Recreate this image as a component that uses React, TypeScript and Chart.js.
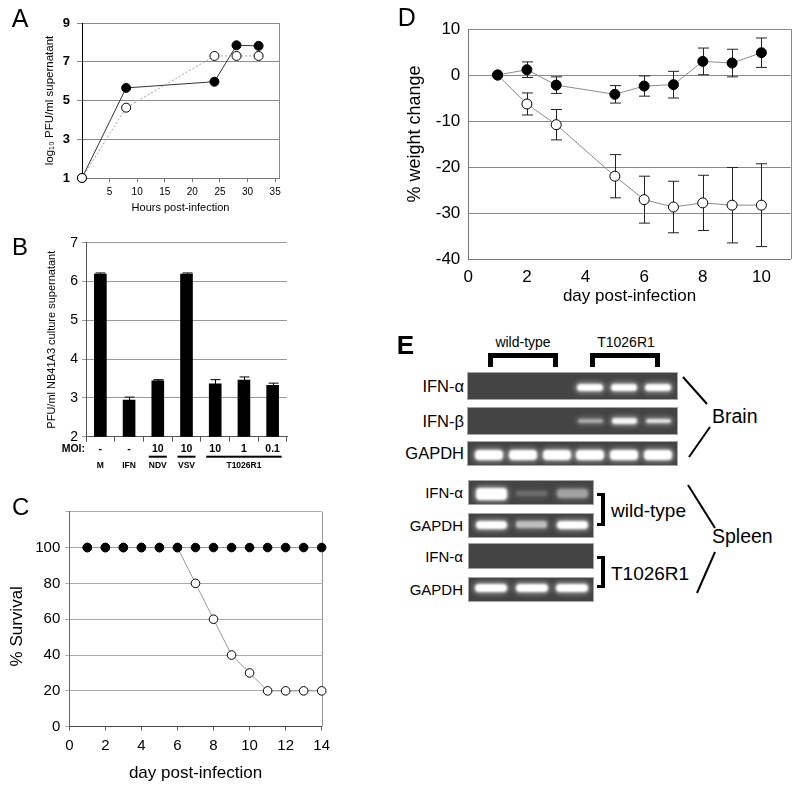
import React, { useEffect, useRef } from "react";
import { Chart, registerables } from "chart.js";

Chart.register(...registerables);

const FONT = "'Liberation Sans', Arial, Helvetica, sans-serif";
Chart.defaults.font.family = FONT;
Chart.defaults.color = "#000";

// ---------- Panel A: virus growth ----------
const aHours = [0, 8, 24, 28, 32];
const aFilled = [1, 5.65, 5.97, 7.85, 7.82];
const aOpen = [1, 4.63, 7.3, 7.3, 7.3];

// ---------- Panel B: bar chart ----------
const bConditions = ["M", "IFN", "NDV 10", "VSV 10", "T1026R1 10", "T1026R1 1", "T1026R1 0.1"];
const bMoi = ["-", "-", "10", "10", "10", "1", "0.1"];
const bValues = [6.2, 2.95, 3.45, 6.2, 3.37, 3.47, 3.33];
const bErrors = [0.02, 0.07, 0.02, 0.02, 0.1, 0.07, 0.05];
const bGroupNames = ["M", "IFN", "NDV", "VSV", "T1026R1"];
const bGroupStart = [0, 1, 2, 3, 4];
const bGroupEnd = [0, 1, 2, 3, 6];
const bGroupUnderline = [false, false, true, true, true];

// ---------- Panel C: survival ----------
const cDays = [1, 2, 3, 4, 5, 6, 7, 8, 9, 10, 11, 12, 13, 14];
const cFilled = [100, 100, 100, 100, 100, 100, 100, 100, 100, 100, 100, 100, 100, 100];
const cOpen = [100, 100, 100, 100, 100, 100, 80, 60, 40, 30, 20, 20, 20, 20];

// ---------- Panel D: weight change ----------
const dDays = [1, 2, 3, 5, 6, 7, 8, 9, 10];
const dFilled = [0, 1.15, -2.2, -4.2, -2.4, -2.1, 2.96, 2.6, 4.85];
const dFilledErr = [0, 1.7, 1.8, 1.9, 2.2, 2.9, 2.9, 3.0, 3.2];
const dOpen = [0, -6.3, -10.8, -22.0, -27.1, -28.7, -27.8, -28.3, -28.3];
const dOpenErr = [0, 2.4, 3.3, 4.7, 5.1, 5.6, 6.0, 8.2, 9.0];

// ---------- Panel E: gel band intensities ----------
const brainIfnAlpha = [0, 0, 0, 1, 1, 1];
const brainIfnBeta = [0, 0, 0, 0.55, 0.95, 0.85];
const brainGapdh = [1, 1, 1, 1, 1, 1];
const spleenWtIfnAlpha = [1, 0.22, 0.5];
const spleenWtGapdh = [1, 0.65, 1];
const spleenMutIfnAlpha = [0, 0, 0];
const spleenMutGapdh = [1, 1, 1];

// ---------- plugins ----------
const framePlugin = {
  id: "frame",
  beforeDatasetsDraw(chart: any, _args: any, opts: any) {
    if (!opts || !opts.color) return;
    const { left, top, right, bottom } = chart.chartArea;
    const ctx = chart.ctx;
    ctx.save();
    ctx.strokeStyle = opts.color;
    ctx.lineWidth = 1;
    ctx.beginPath();
    const sides: string[] = opts.sides || [];
    if (sides.includes("right")) {
      ctx.moveTo(Math.round(right) + 0.5, top);
      ctx.lineTo(Math.round(right) + 0.5, bottom);
    }
    if (sides.includes("top")) {
      ctx.moveTo(left, Math.round(top) + 0.5);
      ctx.lineTo(right, Math.round(top) + 0.5);
    }
    ctx.stroke();
    ctx.restore();
  },
};

function drawErrors(chart: any, opts: any) {
  const ctx = chart.ctx;
  const yScale = chart.scales.y;
  chart.data.datasets.forEach((ds: any, di: number) => {
    const errs = opts.errors && opts.errors[di];
    if (!errs) return;
    const meta = chart.getDatasetMeta(di);
    meta.data.forEach((el: any, i: number) => {
      const e = errs[i];
      if (!e) return;
      const raw = ds.data[i];
      const v = typeof raw === "number" ? raw : raw.y;
      const x = Math.round(el.x) + 0.5;
      const yT = yScale.getPixelForValue(v + e);
      const yB = yScale.getPixelForValue(v - e);
      const cap = opts.cap || 5;
      ctx.save();
      ctx.strokeStyle = opts.color || "#000";
      ctx.lineWidth = opts.width || 1;
      ctx.beginPath();
      ctx.moveTo(x, yT);
      ctx.lineTo(x, yB);
      ctx.moveTo(x - cap, yT);
      ctx.lineTo(x + cap, yT);
      ctx.moveTo(x - cap, yB);
      ctx.lineTo(x + cap, yB);
      ctx.stroke();
      ctx.restore();
    });
  });
}

const errorBarPlugin = {
  id: "errorBars",
  beforeDatasetsDraw(chart: any, _a: any, opts: any) {
    if (opts && opts.layer === "before") drawErrors(chart, opts);
  },
  afterDatasetsDraw(chart: any, _a: any, opts: any) {
    if (opts && opts.layer === "after") drawErrors(chart, opts);
  },
};

const moiLabelPlugin = {
  id: "moiLabels",
  afterDraw(chart: any) {
    const ctx = chart.ctx;
    const xs = chart.scales.x;
    const area = chart.chartArea;
    const rowMoi = area.bottom + 12;
    const rowLine = area.bottom + 20;
    const rowName = area.bottom + 28.5;
    ctx.save();
    ctx.fillStyle = "#000";
    ctx.textBaseline = "middle";
    ctx.font = `bold 10.5px ${FONT}`;
    ctx.textAlign = "right";
    ctx.fillText("MOI:", area.left - 1, rowMoi);
    ctx.textAlign = "center";
    bMoi.forEach((m, i) => {
      ctx.fillText(m, xs.getPixelForValue(i), rowMoi);
    });
    ctx.font = `bold 8.5px ${FONT}`;
    bGroupNames.forEach((name, g) => {
      const x0 = xs.getPixelForValue(bGroupStart[g]);
      const x1 = xs.getPixelForValue(bGroupEnd[g]);
      const cx = (x0 + x1) / 2;
      if (bGroupUnderline[g]) {
        ctx.fillRect(x0 - 9, rowLine - 1, x1 - x0 + 18, 2);
      }
      ctx.fillText(name, cx, rowName);
    });
    ctx.restore();
  },
};

// ---------- chart configs ----------
const noLegend = { legend: { display: false }, tooltip: { enabled: false } };

function configA(): any {
  return {
    type: "line",
    data: {
      datasets: [
        {
          data: aHours.map((x, i) => ({ x, y: aOpen[i] })),
          borderColor: "#a0a0a0",
          borderWidth: 1,
          borderDash: [2, 2],
          pointRadius: 4.5,
          pointBackgroundColor: "#fff",
          pointBorderColor: "#000",
          pointBorderWidth: 1,
          clip: false,
        },
        {
          data: aHours.map((x, i) => ({ x, y: aFilled[i] })),
          borderColor: "#333",
          borderWidth: 1,
          pointRadius: 4.5,
          pointBackgroundColor: "#000",
          pointBorderColor: "#000",
          clip: false,
        },
      ],
    },
    options: {
      responsive: false,
      animation: false,
      layout: { padding: { top: 23, right: 21, left: 0, bottom: 0 } },
      plugins: { ...noLegend, frame: { sides: ["right"], color: "#8c8c8c" } },
      scales: {
        x: {
          type: "linear",
          min: 0,
          max: 35.7,
          ticks: {
            stepSize: 5,
            includeBounds: false,
            font: { size: 10 },
            padding: 4,
            maxRotation: 0,
            autoSkip: false,
            callback: (v: number) => (v === 0 ? "" : String(v)),
          },
          grid: { drawOnChartArea: false, tickLength: 4, color: "#777" },
          border: { color: "#777" },
          title: { display: true, text: "Hours post-infection", font: { size: 11 }, padding: { top: 0, bottom: 7 } },
          afterFit: (s: any) => { s.height = 44; },
        },
        y: {
          min: 1,
          max: 9,
          ticks: { stepSize: 2, font: { size: 13, weight: "bold" }, padding: 7 },
          grid: { color: "#8c8c8c", tickLength: 5 },
          border: { color: "#000" },
          title: { display: true, text: "log\u2081\u2080 PFU/ml supernatant", font: { size: 11.5 }, padding: { top: 43, bottom: 0 } },
          afterFit: (s: any) => { s.width = 82; },
        },
      },
    },
    plugins: [framePlugin],
  };
}

function configB(): any {
  return {
    type: "bar",
    data: {
      labels: bConditions,
      datasets: [
        {
          data: bValues,
          backgroundColor: "#000",
          borderWidth: 0,
          barPercentage: 0.44,
          categoryPercentage: 1,
        },
      ],
    },
    options: {
      responsive: false,
      animation: false,
      layout: { padding: { top: 14.7, right: 13, left: 0, bottom: 0 } },
      plugins: { ...noLegend, errorBars: { layer: "after", errors: [bErrors], cap: 5, color: "#000", width: 1 } },
      scales: {
        x: {
          ticks: { display: false },
          grid: { drawOnChartArea: false, tickLength: 5, color: "#555", offset: true },
          border: { color: "#555" },
          afterFit: (s: any) => { s.height = 41.3; },
        },
        y: {
          min: 2,
          max: 7,
          ticks: { stepSize: 1, font: { size: 14 }, padding: 4 },
          grid: { color: "#999", tickLength: 4 },
          border: { color: "#555" },
          title: { display: true, text: "PFU/ml NB41A3 culture supernatant", font: { size: 11 }, padding: { top: 45, bottom: 0 } },
          afterFit: (s: any) => { s.width = 86; },
        },
      },
    },
    plugins: [errorBarPlugin, moiLabelPlugin],
  };
}

function configC(): any {
  return {
    type: "line",
    data: {
      datasets: [
        {
          data: cDays.map((x, i) => ({ x, y: cFilled[i] })),
          borderColor: "#999",
          borderWidth: 1,
          pointRadius: 4.3,
          pointBackgroundColor: "#000",
          pointBorderColor: "#000",
          clip: false,
        },
        {
          data: cDays.map((x, i) => ({ x, y: cOpen[i] })),
          borderColor: "#999",
          borderWidth: 1,
          pointRadius: 4.3,
          pointBackgroundColor: "#fff",
          pointBorderColor: "#000",
          pointBorderWidth: 1,
          clip: false,
        },
      ],
    },
    options: {
      responsive: false,
      animation: false,
      layout: { padding: { top: 21.7, right: 18.3, left: 0, bottom: 0 } },
      plugins: { ...noLegend, frame: { sides: ["right"], color: "#999" } },
      scales: {
        x: {
          type: "linear",
          min: 0,
          max: 14,
          ticks: { stepSize: 2, font: { size: 15 }, padding: 6, maxRotation: 0, autoSkip: false },
          grid: { drawOnChartArea: false, tickLength: 4, color: "#666" },
          border: { color: "#444" },
          title: { display: true, text: "day post-infection", font: { size: 17 }, padding: { top: 0, bottom: 8.5 } },
          afterFit: (s: any) => { s.height = 65.3; },
        },
        y: {
          min: 0,
          max: 120,
          ticks: { stepSize: 20, font: { size: 15 }, padding: 5, callback: (v: number) => (v > 100 ? "" : String(v)) },
          grid: { color: "#aaa", tickLength: 4 },
          border: { color: "#666" },
          title: { display: true, text: "% Survival\u00a0\u00a0\u00a0", font: { size: 17 }, padding: { top: 7, bottom: 0 } },
          afterFit: (s: any) => { s.width = 69.3; },
        },
      },
    },
    plugins: [framePlugin],
  };
}

function configD(): any {
  return {
    type: "line",
    data: {
      datasets: [
        {
          data: dDays.map((x, i) => ({ x, y: dFilled[i] })),
          borderColor: "#8a8a8a",
          borderWidth: 1,
          pointRadius: 5,
          pointBackgroundColor: "#000",
          pointBorderColor: "#000",
          clip: false,
        },
        {
          data: dDays.map((x, i) => ({ x, y: dOpen[i] })),
          borderColor: "#8a8a8a",
          borderWidth: 1,
          pointRadius: 5,
          pointBackgroundColor: "#fff",
          pointBorderColor: "#000",
          pointBorderWidth: 1,
          clip: false,
        },
      ],
    },
    options: {
      responsive: false,
      animation: false,
      layout: { padding: { top: 29, right: 9.3, left: 0, bottom: 0 } },
      plugins: {
        ...noLegend,
        frame: { sides: ["right"], color: "#888" },
        errorBars: { layer: "before", errors: [dFilledErr, dOpenErr], cap: 5.5, color: "#222", width: 1 },
      },
      scales: {
        x: {
          type: "linear",
          min: 0,
          max: 11,
          ticks: { stepSize: 2, includeBounds: false, font: { size: 17 }, padding: 8, maxRotation: 0, autoSkip: false },
          grid: { drawOnChartArea: false, drawTicks: false, color: "#777" },
          border: { color: "#777" },
          title: { display: true, text: "day post-infection", font: { size: 17 }, padding: { top: 0, bottom: 3 } },
          afterFit: (s: any) => { s.height = 51; },
        },
        y: {
          min: -40,
          max: 10,
          ticks: { stepSize: 10, font: { size: 17 }, padding: 8 },
          grid: { color: "#888", drawTicks: false },
          border: { color: "#777" },
          title: { display: true, text: "\u00a0\u00a0\u00a0\u00a0% weight change", font: { size: 18 }, padding: { top: 4, bottom: 0 } },
          afterFit: (s: any) => { s.width = 68.3; },
        },
      },
    },
    plugins: [framePlugin, errorBarPlugin],
  };
}

// ---------- components ----------
function ChartCanvas(props: { left: number; top: number; width: number; height: number; make: () => any }) {
  const ref = useRef<HTMLCanvasElement>(null);
  useEffect(() => {
    const chart = new Chart(ref.current as HTMLCanvasElement, props.make());
    return () => chart.destroy();
  }, []);
  return (
    <canvas
      ref={ref}
      width={props.width}
      height={props.height}
      style={{ position: "absolute", left: props.left, top: props.top, width: props.width, height: props.height }}
    />
  );
}

function Txt(props: { x: number; cy: number; size: number; align?: "left" | "right" | "center"; bold?: boolean; children: any }) {
  const { x, cy, size, align = "left", bold } = props;
  const top = cy - 0.4885 * size;
  const style: any = {
    position: "absolute",
    top,
    fontSize: size,
    lineHeight: 1,
    whiteSpace: "nowrap",
    fontWeight: bold ? "bold" : "normal",
    fontFamily: FONT,
    color: "#000",
  };
  if (align === "left") style.left = x;
  else if (align === "right") style.right = 800 - x;
  else {
    style.left = x - 200;
    style.width = 400;
    style.textAlign = "center";
  }
  return <div style={style}>{props.children}</div>;
}

function Letter(props: { x: number; capTop: number; size: number; bold?: boolean; children: any }) {
  return (
    <div
      style={{
        position: "absolute",
        left: props.x,
        top: props.capTop - 0.1305 * props.size,
        fontSize: props.size,
        lineHeight: 1,
        fontFamily: FONT,
        fontWeight: props.bold ? "bold" : "normal",
      }}
    >
      {props.children}
    </div>
  );
}

function GelRow(props: {
  left: number;
  width: number;
  top: number;
  height: number;
  lanes: number[];
  laneStart: number;
  laneStep: number;
  bandW: number;
  bandH: number;
  dy: number;
}) {
  const { left, width, top, height, lanes, laneStart, laneStep, bandW, bandH, dy } = props;
  const cy = height / 2 + dy;
  return (
    <div
      style={{
        position: "absolute",
        left,
        top,
        width,
        height,
        boxSizing: "border-box",
        background: "#444",
        border: "1px solid #a5a5a5",
        overflow: "hidden",
      }}
    >
      {lanes.map((intensity, i) => {
        if (intensity <= 0) return null;
        const a = Math.min(1, intensity);
        const h = bandH * (0.35 + 0.65 * a);
        const w = bandW;
        const cx = laneStart + i * laneStep - left;
        return (
          <div
            key={i}
            style={{
              position: "absolute",
              left: cx - w / 2,
              top: cy - h / 2,
              width: w,
              height: h,
              borderRadius: Math.min(h / 2, 4),
              background: `rgba(255,255,255,${a})`,
              boxShadow: `0 0 4px 2px rgba(215,215,215,${a * 0.55})`,
              filter: "blur(0.8px)",
            }}
          />
        );
      })}
    </div>
  );
}

function GelPanel() {
  const bL = 467, bW = 211, bStart = 488, bStep = 33.8;
  const sL = 468, sW = 126, sStart = 490, sStep = 40.7;
  const bar = (l: number, t: number, w: number, h: number) => (
    <div style={{ position: "absolute", left: l, top: t, width: w, height: h, background: "#000" }} />
  );
  return (
    <>
      <Txt x={523} cy={341.5} size={14} align="center">wild-type</Txt>
      <Txt x={626} cy={341.5} size={14} align="center">T1026R1</Txt>
      {bar(488, 353, 70, 5)}
      {bar(488, 353, 5, 14)}
      {bar(553, 353, 5, 14)}
      {bar(590, 353, 70, 5)}
      {bar(590, 353, 5, 14)}
      {bar(655, 353, 5, 14)}

      <GelRow left={bL} width={bW} top={372} height={28} lanes={brainIfnAlpha} laneStart={bStart} laneStep={bStep} bandW={26} bandH={7} dy={0} />
      <GelRow left={bL} width={bW} top={407} height={28} lanes={brainIfnBeta} laneStart={bStart} laneStep={bStep} bandW={25} bandH={5.5} dy={-1} />
      <GelRow left={bL} width={bW} top={441} height={25} lanes={brainGapdh} laneStart={bStart} laneStep={bStep} bandW={28} bandH={10} dy={0} />
      <Txt x={464} cy={386} size={16.5} align="right">IFN-α</Txt>
      <Txt x={464} cy={421} size={16.5} align="right">IFN-β</Txt>
      <Txt x={464} cy={453.5} size={16.5} align="right">GAPDH</Txt>

      <GelRow left={sL} width={sW} top={480} height={25} lanes={spleenWtIfnAlpha} laneStart={sStart} laneStep={sStep} bandW={31} bandH={12} dy={0} />
      <GelRow left={sL} width={sW} top={513} height={25} lanes={spleenWtGapdh} laneStart={sStart} laneStep={sStep} bandW={31} bandH={8} dy={-2} />
      <GelRow left={sL} width={sW} top={543} height={26} lanes={spleenMutIfnAlpha} laneStart={sStart} laneStep={sStep} bandW={30} bandH={6} dy={0} />
      <GelRow left={sL} width={sW} top={577} height={25} lanes={spleenMutGapdh} laneStart={sStart} laneStep={sStep} bandW={32} bandH={8} dy={-3} />
      <Txt x={463} cy={492.5} size={15} align="right">IFN-α</Txt>
      <Txt x={463} cy={525.5} size={15} align="right">GAPDH</Txt>
      <Txt x={463} cy={556} size={15} align="right">IFN-α</Txt>
      <Txt x={463} cy={589.5} size={15} align="right">GAPDH</Txt>

      {bar(601, 493, 4, 33)}
      {bar(597, 493, 6, 3)}
      {bar(597, 523, 6, 3)}
      {bar(601, 556, 4, 32)}
      {bar(597, 556, 6, 3)}
      {bar(597, 585, 6, 3)}
      <Txt x={611} cy={510} size={19}>wild-type</Txt>
      <Txt x={611} cy={573} size={19}>T1026R1</Txt>

      <Txt x={712} cy={416.5} size={19.5}>Brain</Txt>
      <Txt x={712} cy={537} size={19.5}>Spleen</Txt>

      <svg width={800} height={792} style={{ position: "absolute", left: 0, top: 0, pointerEvents: "none" }}>
        <g stroke="#000" strokeWidth={2} fill="none">
          <line x1={683} y1={377} x2={707} y2={404} />
          <line x1={689} y1={457} x2={710} y2={427} />
          <line x1={688} y1={485} x2={715} y2={528} />
          <line x1={697} y1={593} x2={715} y2={552} />
        </g>
      </svg>
    </>
  );
}

export default function App() {
  return (
    <div
      style={{
        position: "fixed",
        left: 0,
        top: 0,
        width: 800,
        height: 792,
        background: "#fff",
        overflow: "hidden",
        fontFamily: FONT,
      }}
    >
      <ChartCanvas left={0} top={0} width={300} height={222} make={configA} />
      <ChartCanvas left={0} top={228} width={300} height={250} make={configB} />
      <ChartCanvas left={0} top={490} width={340} height={302} make={configC} />
      <ChartCanvas left={400} top={0} width={400} height={310} make={configD} />
      <GelPanel />
      <Letter x={11.7} capTop={9.3} size={25}>A</Letter>
      <Letter x={12} capTop={238.3} size={24}>B</Letter>
      <Letter x={12} capTop={498.3} size={24}>C</Letter>
      <Letter x={397.7} capTop={8.3} size={25}>D</Letter>
      <Letter x={396.7} capTop={335} size={26} bold>E</Letter>
    </div>
  );
}
